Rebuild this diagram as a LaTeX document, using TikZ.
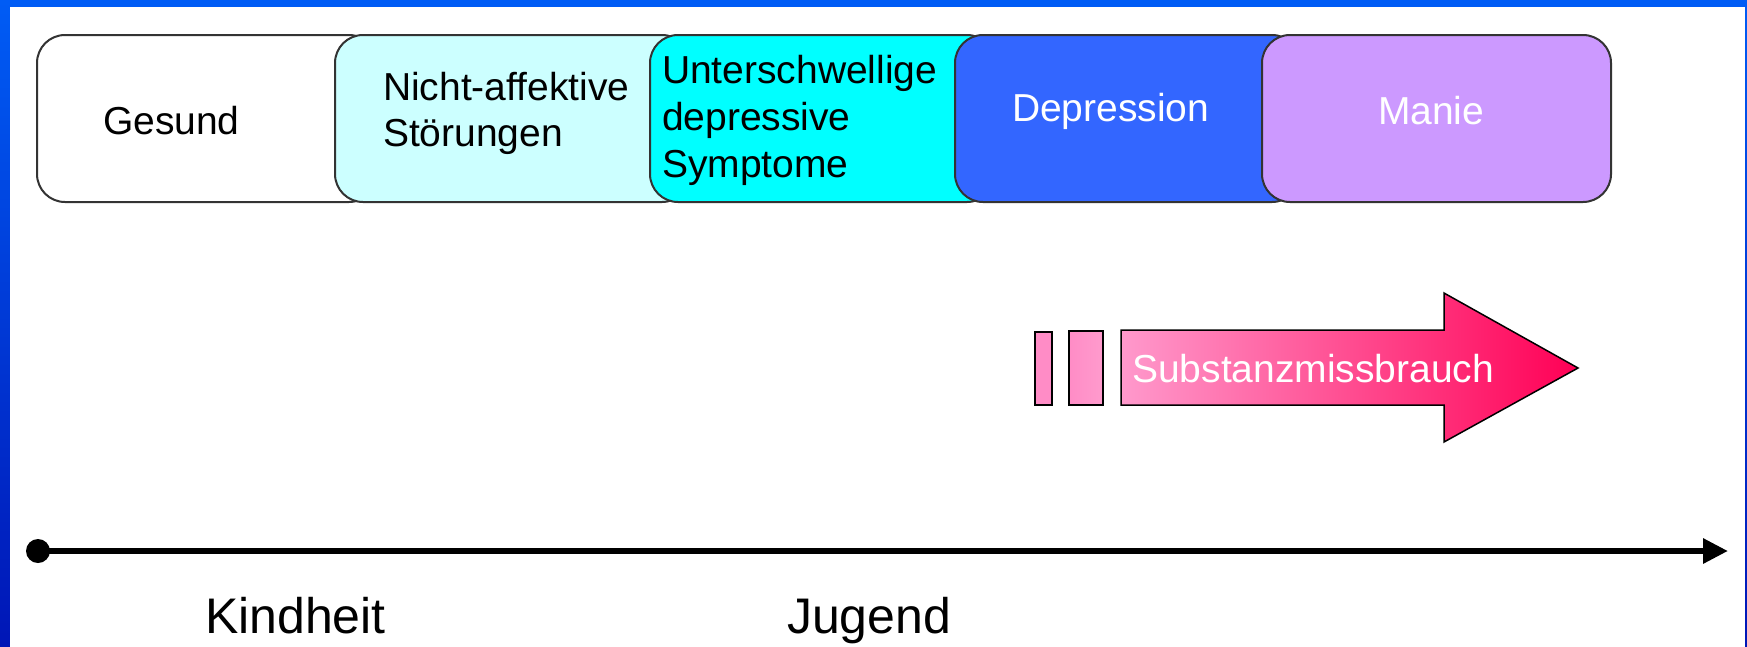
\documentclass[tikz,border=0pt]{standalone}
\usepackage{fontspec}
\setmainfont{Liberation Sans}
\usetikzlibrary{arrows.meta}
\definecolor{cGes}{RGB}{255,255,255}
\definecolor{cNicht}{RGB}{204,255,255}
\definecolor{cUnter}{RGB}{0,255,255}
\definecolor{cDep}{RGB}{51,102,255}
\definecolor{cMan}{RGB}{204,153,255}
\definecolor{frameTop}{RGB}{0,92,245}
\definecolor{frameBot}{RGB}{0,22,182}
\definecolor{pinkL}{RGB}{255,153,204}
\definecolor{pinkR}{RGB}{255,0,85}
\definecolor{pinkA}{RGB}{255,140,198}
\definecolor{pinkB}{RGB}{255,155,205}
\tikzset{
  phase/.style={draw=black!80, line width=2pt, rounded corners=28pt, anchor=north west,
    minimum height=167pt, inner sep=0pt, outer sep=0pt},
  lbl/.style={anchor=base west, inner sep=0pt, outer sep=0pt, font=\fontsize{39}{45}\selectfont},
  biglbl/.style={anchor=base west, inner sep=0pt, outer sep=0pt, font=\fontsize{50}{58}\selectfont},
  pinkbar/.style={draw=black, line width=1.5pt}
}
\begin{document}
\begin{tikzpicture}[x=1pt,y=-1pt]
\useasboundingbox (0,0) rectangle (1747,646);
% frame
\shade[top color=frameTop, bottom color=frameBot] (0,0) rectangle (1747,646);
\fill[white] (10,7) rectangle (1745,670);
% phase boxes
\node[phase, fill=cGes, minimum width=340pt] (gesund) at (37,35) {};
\node[phase, fill=cNicht, minimum width=355pt] (nicht) at (335,35) {};
\node[phase, fill=cUnter, minimum width=345pt] (unter) at (650,35) {};
\node[phase, fill=cDep, minimum width=345pt] (dep) at (955,35) {};
\node[phase, fill=cMan, minimum width=349pt] (manie) at (1262,35) {};
% texts
\node[lbl] (tGes) at (103,134) {Gesund};
\node[lbl] (tNicht1) at (383,100) {Nicht-affektive};
\node[lbl] (tNicht2) at (383,146) {Störungen};
\node[lbl] (tUnter1) at (662,83) {Unterschwellige};
\node[lbl] (tUnter2) at (662,130) {depressive};
\node[lbl] (tUnter3) at (662,177) {Symptome};
\node[lbl, text=white] (tDep) at (1012,121) {Depression};
\node[lbl, text=white] (tMan) at (1378,124) {Manie};
% substance abuse arrow
\draw[pinkbar, fill=pinkA] (1035,332) rectangle (1052,405);
\draw[pinkbar, left color=pinkA, right color=pinkB] (1069,331) rectangle (1103,405);
\draw[pinkbar, left color=pinkL, right color=pinkR, line join=miter]
  (1121,330) -- (1444,330) -- (1444,293) -- (1578,368) -- (1444,442) -- (1444,405) -- (1121,405) -- cycle;
\node[anchor=base west, inner sep=0pt, text=white, font=\fontsize{39}{45}\selectfont] (tSub) at (1132,382) {Substanzmissbrauch};
% timeline
\coordinate (tstart) at (38,551);
\coordinate (tend) at (1728,551);
\fill (tstart) circle (12);
\draw[line width=6pt, -{Triangle[length=25pt,width=24pt]}] (tstart) -- (tend);
\node[biglbl] (kind) at (205,633) {Kindheit};
\node[biglbl] (jug) at (787,633) {Jugend};
\end{tikzpicture}
\end{document}
